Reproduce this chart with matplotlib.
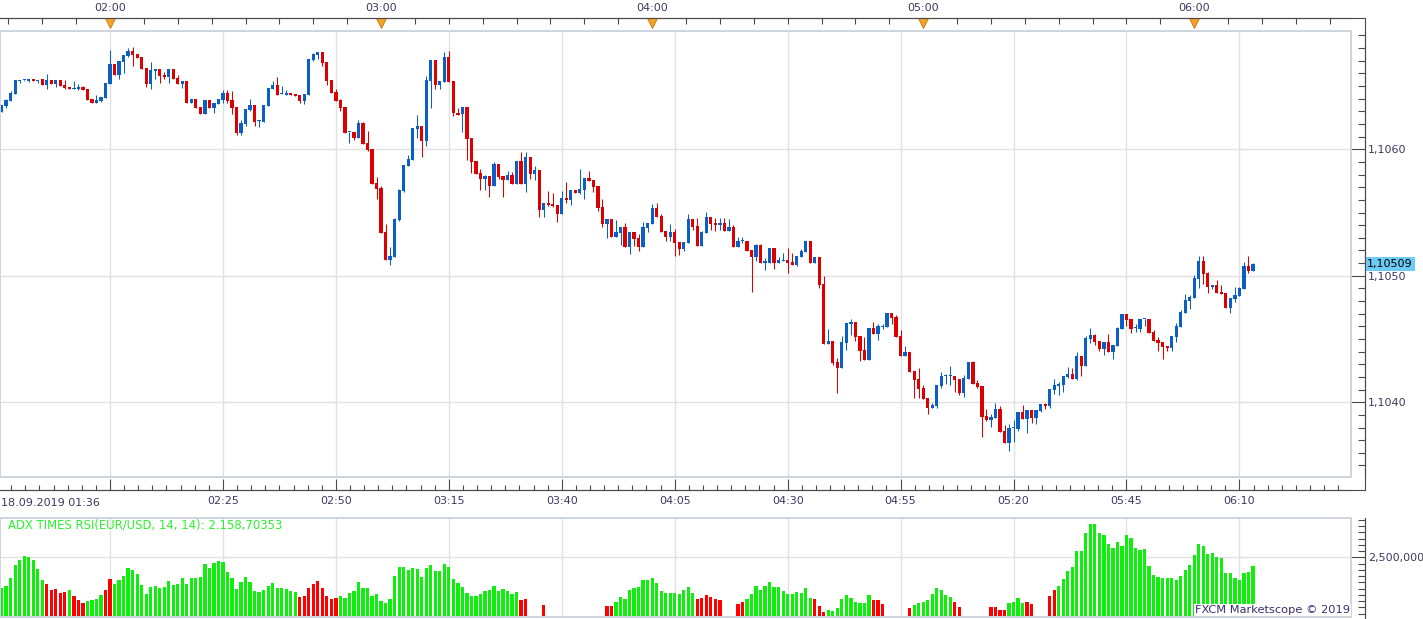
import matplotlib.pyplot as plt
import numpy as np
from matplotlib.lines import Line2D
from matplotlib.patches import Rectangle
from matplotlib.transforms import blended_transform_factory

W, H = 1423, 619

# EUR/USD 1-minute candles from 01:36, prices in pips above 1.1000
o_pips = [62.97, 63.42, 63.84, 64.40, 65.40, 65.45, 65.40, 65.56, 65.43, 65.53,
          65.11, 65.48, 65.16, 65.48, 65.08, 64.95, 64.80, 64.77, 64.92, 64.77,
          63.98, 63.69, 63.84, 64.03, 65.16, 66.74, 65.87, 66.90, 67.37, 67.77,
          67.53, 67.30, 66.45, 65.16, 66.19, 66.35, 65.87, 65.71, 66.35, 65.64,
          65.16, 65.40, 63.66, 63.98, 63.34, 62.79, 63.90, 63.26, 63.58, 63.90,
          64.45, 63.90, 63.34, 61.29, 62.00, 63.11, 63.50, 62.22, 62.16, 63.42,
          64.77, 65.08, 64.35, 64.29, 64.45, 64.37, 64.29, 63.82, 64.29, 67.06,
          67.45, 67.69, 66.90, 65.48, 64.53, 63.90, 63.34, 61.35, 61.37, 60.89,
          62.08, 60.50, 60.02, 57.34, 56.94, 53.46, 51.25, 51.49, 54.41, 56.70,
          58.68, 59.15, 61.60, 61.84, 60.68, 65.43, 67.06, 65.08, 65.35, 67.32,
          65.43, 62.90, 62.76, 63.37, 60.90, 59.08, 58.13, 57.66, 57.89, 57.10,
          58.84, 57.89, 57.58, 57.97, 57.26, 59.08, 57.26, 59.40, 58.05, 58.37,
          55.21, 55.76, 55.68, 55.60, 54.89, 56.15, 56.00, 56.79, 56.55, 56.79,
          57.74, 57.58, 57.10, 55.44, 54.10, 54.49, 53.07, 53.39, 53.86, 52.28,
          53.47, 52.99, 52.27, 53.78, 54.09, 55.36, 54.72, 53.54, 53.06, 53.46,
          52.67, 52.12, 52.59, 54.49, 53.93, 52.35, 53.38, 54.65, 54.17, 54.01,
          54.17, 53.54, 53.86, 52.27, 52.73, 52.75, 52.04, 51.48, 52.43, 51.01,
          51.01, 52.20, 51.01, 51.17, 51.25, 51.09, 50.85, 51.48, 51.88, 52.75,
          51.01, 51.48, 49.35, 44.61, 44.85, 43.19, 42.71, 44.69, 46.19, 46.35,
          45.24, 44.13, 43.34, 45.87, 45.40, 45.97, 45.95, 47.06, 46.74, 45.24,
          43.66, 43.97, 42.48, 41.84, 41.13, 40.34, 39.55, 39.71, 41.29, 42.04,
          42.06, 42.08, 41.84, 40.74, 41.84, 43.19, 41.53, 41.29, 38.92, 38.60,
          38.76, 39.47, 37.73, 36.78, 37.95, 37.89, 39.23, 38.68, 39.39, 38.76,
          39.31, 39.87, 39.71, 40.97, 41.29, 41.37, 42.00, 42.24, 41.84, 43.66,
          42.87, 45.00, 45.32, 44.85, 44.21, 44.77, 43.98, 44.45, 45.80, 46.98,
          46.59, 45.85, 45.80, 46.57, 46.59, 45.56, 44.93, 44.77, 44.45, 44.29,
          45.16, 45.95, 47.06, 48.01, 48.24, 49.75, 51.17, 50.22, 49.11, 49.27,
          48.72, 48.64, 47.45, 48.16, 48.40, 48.96, 50.77, 50.38]
h_pips = [63.50, 63.98, 64.61, 65.48, 65.48, 65.50, 65.53, 65.56, 65.48, 65.58,
          65.95, 65.48, 65.48, 65.48, 65.45, 64.95, 65.40, 65.16, 65.00, 64.77,
          63.98, 64.29, 64.16, 65.24, 67.85, 66.74, 66.98, 67.45, 67.98, 68.11,
          67.53, 67.30, 66.45, 66.90, 66.35, 66.35, 66.11, 66.35, 66.35, 65.87,
          65.40, 65.40, 63.98, 63.98, 63.34, 63.90, 63.90, 63.66, 63.98, 64.69,
          64.69, 64.61, 63.34, 62.32, 63.18, 63.98, 63.50, 62.32, 63.50, 64.85,
          65.40, 65.71, 65.00, 64.69, 64.45, 64.37, 64.29, 64.37, 67.14, 67.61,
          67.69, 67.69, 66.90, 65.48, 64.77, 63.98, 63.34, 61.37, 61.37, 62.32,
          62.16, 61.45, 60.02, 57.81, 57.10, 54.09, 52.28, 54.57, 56.86, 58.76,
          59.55, 61.68, 62.71, 61.84, 65.80, 67.06, 67.06, 65.43, 67.69, 67.80,
          65.43, 63.24, 63.37, 63.37, 60.90, 59.08, 58.45, 57.97, 57.89, 59.00,
          58.84, 57.89, 58.29, 58.21, 59.08, 59.79, 59.79, 59.40, 58.68, 58.37,
          55.76, 56.71, 56.55, 55.60, 56.71, 57.42, 56.79, 56.79, 58.45, 57.74,
          58.29, 57.58, 57.10, 56.08, 54.49, 54.49, 54.42, 53.86, 54.18, 53.47,
          53.47, 53.30, 54.25, 54.17, 55.67, 55.75, 54.88, 53.54, 54.09, 53.70,
          52.67, 52.67, 54.88, 54.49, 54.57, 53.54, 55.04, 54.65, 54.57, 54.57,
          54.57, 54.49, 54.01, 53.06, 53.06, 52.75, 52.04, 52.51, 52.51, 51.41,
          52.20, 52.20, 51.48, 51.80, 52.20, 51.80, 51.56, 52.12, 52.75, 52.75,
          51.48, 51.48, 49.98, 45.80, 44.85, 43.50, 45.24, 46.27, 46.59, 46.35,
          45.24, 45.16, 45.87, 46.35, 46.19, 46.19, 47.06, 47.06, 46.90, 45.72,
          44.45, 43.97, 42.48, 42.71, 41.37, 40.34, 39.95, 41.37, 42.40, 42.24,
          42.87, 42.08, 41.84, 42.16, 43.19, 43.27, 41.76, 41.29, 39.47, 39.08,
          39.95, 39.71, 38.21, 38.29, 38.60, 39.23, 39.79, 39.39, 39.39, 39.39,
          39.87, 39.95, 41.05, 41.84, 41.61, 42.08, 42.79, 42.71, 43.98, 43.66,
          45.24, 45.87, 45.40, 44.85, 44.77, 45.40, 44.53, 45.95, 46.98, 46.98,
          46.59, 46.19, 46.59, 46.59, 46.59, 45.72, 45.16, 44.77, 44.45, 45.24,
          46.27, 47.30, 48.56, 48.48, 50.06, 51.56, 51.56, 50.30, 49.27, 49.67,
          49.27, 48.64, 48.24, 49.11, 49.11, 51.09, 51.56, 51.01]
l_pips = [62.97, 63.29, 63.84, 64.40, 65.27, 65.43, 65.30, 65.40, 65.27, 65.08,
          64.77, 65.19, 64.95, 65.03, 64.77, 64.79, 64.80, 64.69, 64.69, 63.90,
          63.69, 63.69, 63.76, 64.03, 65.16, 65.87, 65.56, 66.06, 67.27, 66.61,
          67.22, 66.37, 64.92, 64.77, 65.56, 65.27, 65.56, 65.27, 65.56, 65.16,
          64.87, 63.66, 63.66, 63.26, 62.79, 62.79, 63.26, 62.87, 63.58, 63.66,
          63.66, 62.79, 61.13, 61.13, 61.84, 63.03, 61.84, 61.76, 62.16, 63.42,
          64.77, 64.29, 64.35, 64.29, 64.29, 64.21, 63.66, 63.58, 64.29, 66.98,
          67.14, 66.58, 65.08, 64.45, 63.82, 63.03, 61.29, 60.50, 60.73, 60.89,
          60.42, 59.86, 57.26, 56.07, 53.38, 51.25, 50.85, 51.49, 54.33, 56.62,
          58.68, 59.15, 60.89, 59.39, 60.26, 63.24, 64.77, 64.77, 65.35, 65.35,
          62.66, 62.71, 61.39, 59.16, 58.13, 58.05, 56.79, 56.79, 56.23, 57.10,
          57.66, 56.23, 57.58, 57.26, 57.26, 57.26, 56.63, 57.66, 57.58, 54.65,
          54.65, 55.52, 55.44, 54.26, 54.89, 55.76, 55.60, 56.55, 56.47, 56.08,
          57.50, 56.63, 55.13, 53.86, 52.99, 53.07, 53.07, 52.44, 52.28, 51.73,
          52.35, 51.96, 52.27, 53.46, 54.09, 54.65, 53.46, 52.75, 52.75, 51.56,
          51.64, 51.96, 52.59, 53.62, 52.35, 52.35, 53.38, 53.62, 53.54, 53.62,
          53.54, 53.54, 52.27, 52.27, 52.59, 51.96, 48.72, 51.17, 51.01, 50.46,
          51.01, 50.54, 51.01, 51.17, 50.22, 50.85, 50.77, 51.48, 51.88, 51.01,
          51.01, 49.03, 44.61, 44.61, 42.95, 40.74, 42.71, 44.13, 45.32, 44.85,
          43.27, 43.34, 43.34, 45.40, 44.93, 45.80, 45.95, 46.19, 45.16, 43.66,
          43.66, 42.40, 40.34, 40.34, 40.26, 39.08, 39.55, 39.55, 41.13, 41.45,
          41.37, 40.81, 40.58, 40.42, 41.84, 41.45, 41.13, 37.26, 38.52, 38.05,
          38.76, 37.65, 36.78, 36.15, 36.86, 37.73, 38.68, 37.57, 38.36, 38.28,
          39.23, 39.47, 39.55, 40.66, 40.58, 40.81, 41.92, 41.84, 41.76, 42.08,
          42.87, 44.69, 44.53, 44.06, 43.74, 43.98, 43.42, 44.45, 45.80, 46.03,
          45.48, 45.56, 45.56, 46.03, 45.48, 44.85, 44.06, 43.42, 44.06, 44.06,
          44.77, 45.95, 47.06, 47.38, 48.24, 49.04, 49.35, 48.64, 48.96, 48.64,
          48.56, 47.45, 47.06, 47.93, 48.40, 48.96, 50.22, 50.38]
c_pips = [63.50, 63.90, 64.48, 65.48, 65.48, 65.47, 65.53, 65.40, 65.46, 65.08,
          65.48, 65.19, 65.48, 65.03, 64.85, 64.79, 64.83, 64.92, 64.69, 63.90,
          63.69, 63.90, 64.16, 65.24, 66.74, 65.87, 66.98, 67.45, 67.77, 67.45,
          67.22, 66.37, 65.16, 66.27, 66.35, 65.79, 65.71, 66.35, 65.56, 65.16,
          65.40, 63.66, 63.98, 63.26, 62.79, 63.90, 63.26, 63.66, 63.98, 64.45,
          63.82, 63.26, 61.29, 62.08, 63.18, 63.50, 62.16, 62.27, 63.50, 64.85,
          65.08, 64.29, 64.37, 64.45, 64.29, 64.21, 63.82, 64.37, 67.14, 67.53,
          67.69, 66.82, 65.40, 64.45, 63.82, 63.26, 61.29, 61.37, 60.89, 62.08,
          60.42, 59.94, 57.26, 56.86, 53.38, 51.25, 51.56, 54.49, 56.78, 58.76,
          59.23, 61.68, 61.84, 60.66, 65.48, 67.06, 65.08, 65.43, 67.32, 65.35,
          62.84, 62.71, 63.37, 60.82, 59.03, 58.05, 57.66, 57.89, 57.10, 58.84,
          57.81, 57.58, 57.97, 57.26, 59.08, 57.26, 59.40, 58.05, 58.37, 55.21,
          55.76, 55.60, 55.52, 54.89, 56.15, 56.00, 56.79, 56.55, 56.87, 57.74,
          57.50, 57.02, 55.36, 54.10, 54.49, 53.07, 53.47, 53.86, 52.28, 53.47,
          52.91, 52.27, 53.86, 54.17, 55.36, 54.65, 53.46, 53.06, 53.46, 52.59,
          52.12, 52.67, 54.49, 53.86, 52.35, 53.46, 54.65, 54.09, 54.01, 54.17,
          53.54, 53.86, 52.27, 52.75, 52.75, 51.96, 51.48, 52.43, 51.01, 51.17,
          52.20, 51.01, 51.25, 51.25, 51.01, 50.85, 51.56, 51.96, 52.75, 51.01,
          51.48, 49.27, 44.61, 44.85, 43.11, 42.71, 44.77, 46.27, 46.35, 45.16,
          44.06, 43.34, 45.87, 45.40, 46.03, 46.00, 47.06, 46.67, 45.16, 43.66,
          43.97, 42.40, 41.76, 41.05, 40.26, 39.55, 39.79, 41.37, 42.08, 42.08,
          42.08, 41.76, 40.74, 41.92, 43.19, 41.45, 41.21, 38.84, 38.60, 38.84,
          39.47, 37.65, 36.78, 37.97, 37.97, 39.23, 38.68, 39.39, 38.76, 39.39,
          39.87, 39.71, 41.05, 41.37, 41.45, 42.08, 42.24, 41.84, 43.66, 42.87,
          45.08, 45.32, 44.77, 44.21, 44.77, 43.98, 44.53, 45.87, 46.98, 46.51,
          45.80, 45.87, 46.59, 46.59, 45.48, 44.85, 44.69, 44.37, 44.29, 45.24,
          46.03, 47.14, 48.09, 48.32, 49.83, 51.17, 50.14, 49.11, 49.27, 48.64,
          48.56, 47.45, 48.24, 48.48, 49.04, 50.77, 50.38, 50.93]

# ADX times RSI, one bar per candle (None = no bar), g = rising, r = falling
adx_rsi = [1270, 1350, 1671, 2192, 2393, 2540, 2500, 2393, 2059, 1591,
           1457, 1190, 1230, 1069, 1136, 1190, 949, 789, 668, 749,
           789, 829, 989, 1190, 1631, 1430, 1591, 1778, 2072, 1992,
           1858, 1390, 1056, 1323, 1350, 1270, 1310, 1551, 1390, 1430,
           1671, 1430, 1671, 1671, 1711, 2233, 2072, 2273, 2353, 2313,
           1912, 1671, 1230, 1511, 1711, 1511, 1150, 1110, 1190, 1350,
           1471, 1270, 1270, 1230, 1150, 1110, 909, 949, 1270, 1430,
           1551, 1270, 949, 829, 869, 949, 869, 1069, 1150, 1511,
           1270, 1270, 949, 1029, 749, 668, 842, 1751, 2112, 2112,
           1992, 2072, 2032, 1711, 2072, 2192, 1952, 1952, 2233, 2112,
           1631, 1471, 1310, 1069, 949, 949, 1029, 1150, 1190, 1350,
           1150, 1230, 1150, 1029, 1110, 789, 829, None, None, None,
           588, None, None, None, None, None, None, None, None, None,
           None, None, None, None, 548, 548, 708, 909, 829, 1190,
           1270, 1310, 1591, 1591, 1671, 1471, 1150, 1069, 1069, 1069,
           1029, 1190, 1310, 1069, 829, 869, 989, 909, 829, 789,
           None, None, None, 628, 708, 829, 1029, 1350, 1190, 1350,
           1511, 1310, 1310, 1150, 1029, 1029, 1110, 1069, 1270, 869,
           829, 548, 307, 388, 347, 468, 829, 989, 869, 708,
           668, 668, 989, 789, 789, 628, None, None, None, None,
           None, 468, 588, 668, 708, 789, 1029, 1270, 1190, 989,
           909, 708, 508, None, None, None, None, None, None, 508,
           508, 414, 414, 668, 708, 869, 668, 708, 628, None,
           None, None, 949, 1190, 1350, 1631, 1952, 2112, 2754, 2754,
           3476, 3837, 3837, 3476, 3396, 3035, 2874, 3115, 2955, 3396,
           3275, 2874, 2794, 2834, 2152, 1791, 1711, 1671, 1671, 1671,
           1591, 1751, 1992, 2192, 2594, 3035, 2955, 2634, 2674, 2500,
           2473, 1872, 1872, 1671, 1591, 1872, 1912, 2158.7]
adx_dir = ("ggggggggggrrrrrgrrrggggrr"
           "ggggggggggggggggggggggggggggggggggggggggg"
           "rrrrrrrrr"
           "gggggggggggggggggggggggggggggggggggggggg"
           "rr---r-------------rr"
           "ggggggggggggggggggrrrrrr---rr"
           "ggggggggggggggg" "rrr" "gggggggggg" "rrr" "-----" "r"
           "ggggggggg" "rr" "------" "rrrr" "gggg" "rr" "---" "rr"
           "gggggggggggggggggggggggggggggggggggggggggggg")

top_ticks = [24, 84, 144, 204, 264]
top_labels = ["02:00", "03:00", "04:00", "05:00", "06:00"]
bottom_ticks = [24, 49, 74, 99, 124, 149, 174, 199, 224, 249, 274]
bottom_labels = ["", "02:25", "02:50", "03:15", "03:40", "04:05", "04:30",
                 "04:55", "05:20", "05:45", "06:10"]
price_ticks = [1.1040, 1.1050, 1.1060]
price_labels = ["1,1040", "1,1050", "1,1060"]

BLUE = "#0a5fc4"
RED = "#dd0000"
GRID = "#e1e1e1"
FRAME = "#cdd4de"
DARK = "#4a4a4a"
LBL = "#3a3a62"


def fy(py):
    return 1 - py / H


pt = 72 / 100  # points per pixel

opens = 1.1 + np.array(o_pips) / 1e4
highs = 1.1 + np.array(h_pips) / 1e4
lows = 1.1 + np.array(l_pips) / 1e4
closes = 1.1 + np.array(c_pips) / 1e4
x = np.arange(len(closes))

fig = plt.figure(figsize=(W / 100, H / 100), dpi=100, facecolor="white")
ax = fig.add_axes([0, fy(477), 1351 / W, (477 - 31) / H])
ax2 = fig.add_axes([0, fy(617), 1351 / W, (617 - 517.7) / H])
xlim = (-0.354, 298.7)

# candles
up = closes >= opens
cols = np.where(up, BLUE, RED)
ax.vlines(x, lows, highs, colors=cols, lw=0.75, zorder=3)
body_bot = np.minimum(opens, closes)
body_h = np.maximum(np.abs(closes - opens), 0.08e-4)
ax.bar(x, body_h, bottom=body_bot, width=0.72, color=cols, linewidth=0, zorder=4)

ax.set_xlim(*xlim)
ax.set_ylim(1.103409, 1.106935)
for p in price_ticks:
    ax.axhline(p, color=GRID, lw=1.0, zorder=1)
for t in bottom_ticks:
    ax.axvline(t, color=GRID, lw=1.0, zorder=1)
    ax2.axvline(t, color=GRID, lw=1.0, zorder=1)

# axes frame styling
ax.spines["left"].set_visible(False)
ax.spines["top"].set_visible(False)
ax.spines["right"].set_position(("outward", 14 * pt))
ax.spines["bottom"].set_position(("outward", 13 * pt))
for s in ["right", "bottom"]:
    ax.spines[s].set_color(DARK)
    ax.spines[s].set_linewidth(0.8)
ax.add_patch(Rectangle((0, 0), 1, 1, transform=ax.transAxes, fill=False,
                       ec=FRAME, lw=1.4, clip_on=False, zorder=5))

ax.yaxis.tick_right()
ax.set_yticks(price_ticks)
ax.set_yticklabels(price_labels)
ax.set_yticks(np.arange(1.1035, 1.10695, 0.0001), minor=True)
ax.tick_params(axis="y", which="major", direction="in", length=14 * pt,
               width=0.8, color=DARK, pad=2.2, labelsize=8, labelcolor=LBL)
ax.tick_params(axis="y", which="minor", direction="in", length=7 * pt,
               width=0.8, color=DARK)

ax.set_xticks(bottom_ticks)
ax.set_xticklabels(bottom_labels)
ax.set_xticks(np.arange(24 - 7 * 3.125, 299, 3.125), minor=True)
ax.tick_params(axis="x", which="major", direction="in", length=11.5 * pt,
               width=0.8, color=DARK, pad=4.5, labelsize=8, labelcolor=LBL)
ax.tick_params(axis="x", which="minor", direction="in", length=5 * pt,
               width=0.8, color=DARK)
ax.text(1 / 1351, -(503 - 477) / 446, "18.09.2019 01:36", transform=ax.transAxes,
        ha="left", va="center", fontsize=8, color=LBL)

# top hour axis
axt = ax.twiny()
axt.set_xlim(*xlim)
for s in ["left", "right", "bottom"]:
    axt.spines[s].set_visible(False)
axt.spines["top"].set_position(("outward", 13 * pt))
axt.spines["top"].set_color(DARK)
axt.spines["top"].set_linewidth(0.8)
axt.set_xticks(top_ticks)
axt.set_xticklabels(top_labels)
axt.set_xticks(np.arange(1.5, 299, 7.5), minor=True)
axt.tick_params(axis="x", which="both", direction="in", length=6 * pt,
                width=0.8, color=DARK, pad=3.5, labelsize=8, labelcolor=LBL)
axt.plot(top_ticks, [(477 - 22.5) / 446] * len(top_ticks), "v", ms=7,
         color="#f4a12a", mec="#c9780c", mew=0.6,
         transform=ax.get_xaxis_transform(), clip_on=False, zorder=6)

# last price tag
tr = blended_transform_factory(ax.transAxes, ax.transData)
ax.text(1367 / 1351, closes[-1], "1,10509", transform=tr, ha="left", va="center",
        fontsize=8, color="black", zorder=10, clip_on=False,
        bbox=dict(boxstyle="square,pad=0.18", fc="#6dccf6", ec="none"))

# indicator panel
ind_x = [i for i, v in enumerate(adx_rsi) if v is not None]
ind_v = [v for v in adx_rsi if v is not None]
ind_c = ["#0cf00c" if adx_dir[i] == "g" else "#ff0000" for i in ind_x]
ax2.bar(ind_x, ind_v, width=0.72, color=ind_c, linewidth=0, zorder=3)
ax2.set_xlim(*xlim)
ax2.set_ylim(120, 4091)
ax2.axhline(2500, color=GRID, lw=1.0, zorder=1)
ax2.set_xticks([])
ax2.spines["left"].set_visible(False)
ax2.spines["top"].set_visible(False)
ax2.spines["bottom"].set_visible(False)
ax2.spines["right"].set_position(("outward", 14 * pt))
ax2.spines["right"].set_color(DARK)
ax2.spines["right"].set_linewidth(0.8)
ax2.add_patch(Rectangle((0, 0), 1, 1, transform=ax2.transAxes, fill=False,
                        ec=FRAME, lw=1.4, clip_on=False, zorder=5))
ax2.yaxis.tick_right()
ax2.set_yticks([2500])
ax2.set_yticklabels(["2,500,000"])
ax2.set_yticks(np.arange(250, 4091, 250), minor=True)
ax2.tick_params(axis="y", which="major", direction="in", length=14 * pt,
                width=0.8, color=DARK, pad=2.2, labelsize=8, labelcolor=LBL)
ax2.tick_params(axis="y", which="minor", direction="in", length=7 * pt,
                width=0.8, color=DARK)
ax2.text(8 / 1351, (617 - 525) / 99.3, "ADX TIMES RSI(EUR/USD, 14, 14): 2.158,70353",
         transform=ax2.transAxes, ha="left", va="center", fontsize=8.4,
         color="#2bf22b", zorder=6)
ax2.text(1350 / 1351, (617 - 610) / 99.3, "FXCM Marketscope \u00a9 2019",
         transform=ax2.transAxes, ha="right", va="center", fontsize=8.2,
         color="#3b2d6b", zorder=7,
         bbox=dict(boxstyle="square,pad=0.1", fc="white", ec="none"))

# outer dark axis lines
for (x0, y0, x1, y1) in [(0, 18, 1365, 18), (1365, 18, 1365, 490),
                         (0, 490, 1365, 490), (1365, 517.7, 1365, 619)]:
    fig.add_artist(Line2D([x0 / W, x1 / W], [fy(y0), fy(y1)], color=DARK, lw=0.8))

fig.savefig("out.png", dpi=100, facecolor="white")
